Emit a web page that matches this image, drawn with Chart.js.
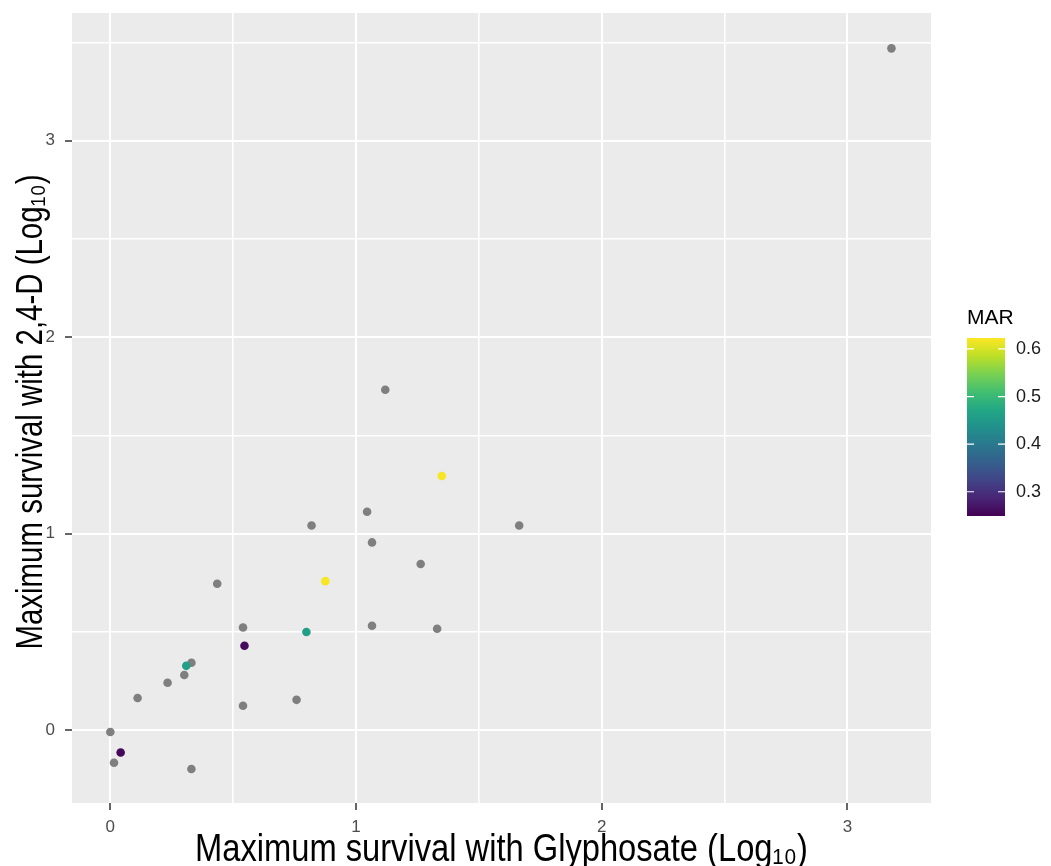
<!DOCTYPE html>
<html>
<head>
<meta charset="utf-8">
<script src="https://cdn.jsdelivr.net/npm/chart.js@4.4.0/dist/chart.umd.min.js"></script>
<style>
  html, body { margin: 0; padding: 0; background: #fff; }
</style>
</head>
<body>
<canvas id="scatter" width="1051" height="866"></canvas>
<script>
// log10 max survival, one entry per population
const glyphosate = [3.179, 1.119, 1.349, 1.045, 0.819, 1.664, 1.065, 1.263, 0.875, 0.435, 0.540, 1.065, 1.330,
                    0.798, 0.546, 0.330, 0.309, 0.301, 0.233, 0.111, 0.540, 0.758, 0.000, 0.042, 0.015, 0.330];
const dichloro = [3.470, 1.733, 1.294, 1.112, 1.042, 1.042, 0.956, 0.846, 0.759, 0.746, 0.523, 0.532, 0.517,
                  0.500, 0.430, 0.344, 0.328, 0.281, 0.242, 0.164, 0.125, 0.155, -0.009, -0.113, -0.165, -0.197];
// MAR value, null = not measured (drawn grey)
const mar = [null, null, 0.62, null, null, null, null, null, 0.62, null, null, null, null,
             0.46, 0.26, null, 0.46, null, null, null, null, null, null, 0.255, null, null];

const marTicks = [0.3, 0.4, 0.5, 0.6];
const marRange = [0.249, 0.623];

const xTitle = "Maximum survival with Glyphosate (Log\u2081\u2080)";
const yTitle = "Maximum survival with 2,4-D (Log\u2081\u2080)";

const viridis = ["#440154", "#482475", "#414487", "#355F8D", "#2A788E", "#21918C",
                 "#22A884", "#44BF70", "#7AD151", "#BDDF26", "#FDE725"];

const FONT = "'Liberation Sans', Arial, sans-serif";

function hexToRgb(h) {
    return [parseInt(h.slice(1, 3), 16), parseInt(h.slice(3, 5), 16), parseInt(h.slice(5, 7), 16)];
}

function viridisColor(v) {
    let t = (v - marRange[0]) / (marRange[1] - marRange[0]);
    t = Math.max(0, Math.min(1, t));
    const pos = t * (viridis.length - 1);
    const i = Math.min(Math.floor(pos), viridis.length - 2);
    const f = pos - i;
    const a = hexToRgb(viridis[i]), b = hexToRgb(viridis[i + 1]);
    const c = a.map((x, k) => Math.round(x + (b[k] - x) * f));
    return `rgb(${c[0]},${c[1]},${c[2]})`;
}

const greyPts = [], colPts = [], colColors = [];
glyphosate.forEach((x, i) => {
    if (mar[i] === null) {
        greyPts.push({ x: x, y: dichloro[i] });
    } else {
        colPts.push({ x: x, y: dichloro[i] });
        colColors.push(viridisColor(mar[i]));
    }
});

const isMajor = v => Math.abs(v - Math.round(v)) < 1e-6;

// grey panel behind the grid
const panelBg = {
    id: "panelBg",
    beforeDraw(chart) {
        const { ctx, chartArea: a } = chart;
        ctx.save();
        ctx.fillStyle = "#EBEBEB";
        ctx.fillRect(a.left, a.top, a.right - a.left, a.bottom - a.top);
        ctx.restore();
    }
};

// axis titles, drawn condensed like the original narrow font
const axisTitles = {
    id: "axisTitles",
    afterDraw(chart) {
        const { ctx, chartArea: a } = chart;
        ctx.save();
        ctx.fillStyle = "#000";
        ctx.textAlign = "center";
        ctx.textBaseline = "alphabetic";

        ctx.font = "38px " + FONT;
        ctx.fillText(xTitle, (a.left + a.right) / 2, a.bottom + 58, 613);

        ctx.font = "36px " + FONT;
        ctx.translate(a.left - 30, (a.top + a.bottom) / 2 + 4);
        ctx.rotate(-Math.PI / 2);
        ctx.fillText(yTitle, 0, 0, 475);
        ctx.restore();
    }
};

// colourbar legend for MAR
const marLegend = {
    id: "marLegend",
    afterDraw(chart) {
        const { ctx, chartArea: a } = chart;
        const x = a.right + 36, w = 38;
        const top = a.top + 325, h = 178;
        const bottom = top + h;

        ctx.save();
        ctx.fillStyle = "#000";
        ctx.font = "21px " + FONT;
        ctx.textAlign = "left";
        ctx.textBaseline = "middle";
        ctx.fillText("MAR", x, top - 20);

        const grad = ctx.createLinearGradient(0, bottom, 0, top);
        viridis.forEach((c, i) => grad.addColorStop(i / (viridis.length - 1), c));
        ctx.fillStyle = grad;
        ctx.fillRect(x, top, w, h);

        ctx.strokeStyle = "#fff";
        ctx.lineWidth = 1.2;
        ctx.font = "18px " + FONT;
        ctx.fillStyle = "#1a1a1a";
        marTicks.forEach(v => {
            const y = bottom - (v - marRange[0]) / (marRange[1] - marRange[0]) * h;
            ctx.beginPath();
            ctx.moveTo(x, y); ctx.lineTo(x + 7, y);
            ctx.moveTo(x + w - 7, y); ctx.lineTo(x + w, y);
            ctx.stroke();
            ctx.fillText(v.toFixed(1), x + w + 11, y);
        });
        ctx.restore();
    }
};

const gridOpts = {
    color: "#FFFFFF",
    lineWidth: ctx => (ctx.tick && isMajor(ctx.tick.value)) ? 2 : 1.6,
    tickLength: 7,
    tickWidth: 1.5,
    tickColor: ctx => (ctx.tick && isMajor(ctx.tick.value)) ? "#333333" : "rgba(0,0,0,0)"
};

const tickOpts = {
    stepSize: 0.5,
    includeBounds: false,
    color: "#4D4D4D",
    font: { size: 17, family: FONT },
    callback: v => isMajor(v) ? String(Math.round(v)) : ""
};

new Chart(document.getElementById("scatter"), {
    type: "scatter",
    data: {
        datasets: [
            {
                data: colPts,
                pointBackgroundColor: colColors,
                pointBorderWidth: 0,
                pointRadius: 4.3,
                pointHoverRadius: 4.3
            },
            {
                data: greyPts,
                pointBackgroundColor: "#7F7F7F",
                pointBorderWidth: 0,
                pointRadius: 4.3,
                pointHoverRadius: 4.3
            }
        ]
    },
    options: {
        responsive: false,
        animation: false,
        layout: { padding: { top: 13, right: 120, left: 0, bottom: 0 } },
        plugins: {
            legend: { display: false },
            tooltip: { enabled: false }
        },
        scales: {
            x: {
                type: "linear",
                min: -0.156,
                max: 3.34,
                border: { display: false },
                grid: gridOpts,
                ticks: Object.assign({}, tickOpts, { padding: 7 }),
                afterFit: scale => {
                    scale.height = 63;
                    scale.paddingLeft = 0;
                    scale.paddingRight = 0;
                }
            },
            y: {
                type: "linear",
                min: -0.37,
                max: 3.65,
                border: { display: false },
                grid: gridOpts,
                ticks: Object.assign({}, tickOpts, { padding: 10 }),
                afterFit: scale => {
                    scale.width = 72;
                    scale.paddingTop = 0;
                    scale.paddingBottom = 0;
                }
            }
        }
    },
    plugins: [panelBg, axisTitles, marLegend]
});
</script>
</body>
</html>
